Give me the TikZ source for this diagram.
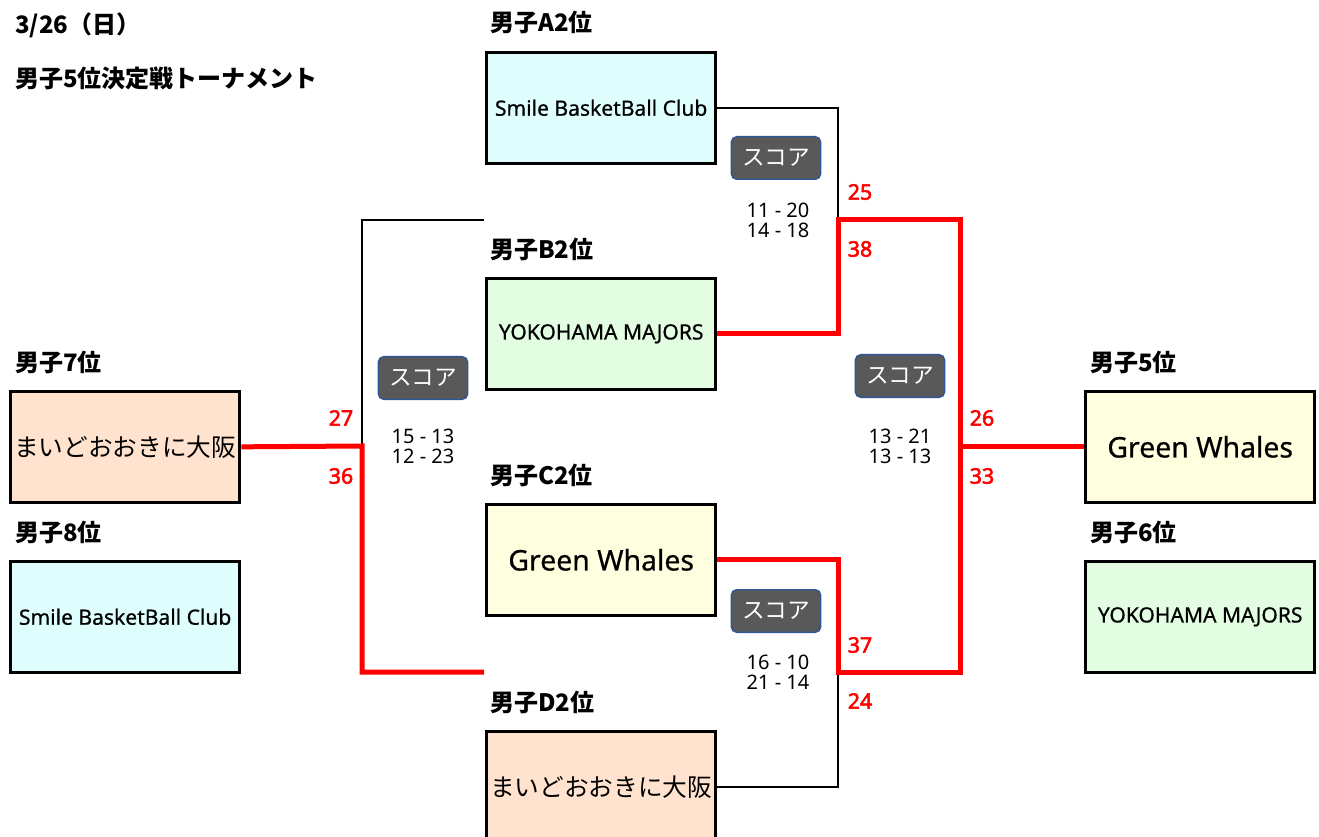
\documentclass[tikz,border=0pt]{standalone}
\usepackage{fontspec}
\setmainfont{Noto Sans CJK JP}
\newfontfamily\latinfont{Noto Sans}[AutoFakeBold=2.5]
\newfontfamily\teamfont{Noto Sans}[FakeBold=0.6]
\usepackage{xcolor}
\definecolor{BoxCyan}{HTML}{DFFFFF}
\definecolor{BoxGreen}{HTML}{E3FDE3}
\definecolor{BoxYellow}{HTML}{FFFFE0}
\definecolor{BoxPeach}{HTML}{FFE3CE}
\definecolor{BtnGray}{HTML}{595959}
\definecolor{BtnBlue}{HTML}{2F5597}
\definecolor{WinRed}{HTML}{FF0000}
\usepackage{tikz}
\usetikzlibrary{positioning}

\begin{document}
\begin{tikzpicture}[x=0.75pt,y=-0.75pt]
\tikzset{
  teambox/.style={draw=black,line width=2.25pt,minimum width=172pt,minimum height=83pt,
    anchor=north west,inner sep=0pt,align=center},
  smallname/.style={font=\teamfont\fontsize{15.8}{17}\selectfont},
  bigname/.style={font=\teamfont\fontsize{21.3}{23}\selectfont},
  jpname/.style={font=\fontsize{18.5}{20}\selectfont},
  head/.style={anchor=west,inner sep=0pt,font=\fontsize{18}{20}\selectfont\bfseries},
  scorebtn/.style={rounded corners=4pt,draw=BtnBlue,fill=BtnGray,text=white,line width=1pt,
    minimum width=67pt,minimum height=32pt,inner sep=0pt,font=\fontsize{17}{18}\selectfont},
  result/.style={align=center,inner sep=0pt,font=\latinfont\fontsize{15}{15}\selectfont},
  pts/.style={text=WinRed,inner sep=0pt,font=\latinfont\fontsize{16}{17}\selectfont\bfseries},
  won/.style={WinRed,line width=3.75pt},
  lost/.style={black,line width=1.5pt}
}
\useasboundingbox (0,0) rectangle (1319,837);

% title
\node[head] (date) at (15,25) {3/26（日）};
\node[head] (title) at (15,78) {男子5位決定戦トーナメント};

% middle column
\node[head] (hA) at (490,22) {男子A2位};
\node[head] (hB) at (490,249) {男子B2位};
\node[head] (hC) at (490,475) {男子C2位};
\node[head] (hD) at (490,702) {男子D2位};
\node[teambox,fill=BoxCyan,smallname] (A) at (485,51) {Smile BasketBall Club};
\node[teambox,fill=BoxGreen,smallname] (B) at (485,277) {YOKOHAMA MAJORS};
\node[teambox,fill=BoxYellow,bigname] (C) at (485,503) {Green Whales};
\node[teambox,fill=BoxPeach,jpname] (D) at (485,730) {まいどおおきに大阪};

% left column
\node[head] (h7) at (15,362) {男子7位};
\node[head] (h8) at (15,532) {男子8位};
\node[teambox,fill=BoxPeach,jpname] (L7) at (9,390) {まいどおおきに大阪};
\node[teambox,fill=BoxCyan,smallname] (L8) at (9,560) {Smile BasketBall Club};

% right column
\node[head] (h5) at (1090,362) {男子5位};
\node[head] (h6) at (1090,532) {男子6位};
\node[teambox,fill=BoxYellow,bigname] (W5) at (1084,390) {Green Whales};
\node[teambox,fill=BoxGreen,smallname] (W6) at (1084,560) {YOKOHAMA MAJORS};

% bracket points
\coordinate (fAB) at (838,220);
\coordinate (fCD) at (838,672);
\coordinate (rTop) at (960,220);
\coordinate (rBot) at (960,672);
\coordinate (lTop) at (484,220);
\coordinate (lBot) at (484,672);
\coordinate (lMid) at (362,446);

\draw[lost] (A.east) -| (fAB);
\draw[lost] (D.east) -| (fCD);
\draw[won] (B.east) -| (fAB) -- (rTop) -- (rBot) -- (fCD) |- (C.east);
\draw[won] (W5.west) -- (W5.west -| rTop);
\draw[lost] (lTop) -| (lMid);
\draw[won] (L7.east) -- (lMid) |- (lBot);

% scores
\node[scorebtn] (s1) at (776,158) {スコア};
\node[scorebtn] (s2) at (423,378) {スコア};
\node[scorebtn] (s3) at (900,376) {スコア};
\node[scorebtn] (s4) at (776,611) {スコア};
\node[result] (r1) at (778,220) {11 - 20\\14 - 18};
\node[result] (r2) at (423,446) {15 - 13\\12 - 23};
\node[result] (r3) at (900,446) {13 - 21\\13 - 13};
\node[result] (r4) at (778,672) {16 - 10\\21 - 14};

\node[pts] (p25) at (860,192) {25};
\node[pts] (p38) at (860,249) {38};
\node[pts] (p27) at (341,418) {27};
\node[pts] (p36) at (341,476) {36};
\node[pts] (p26) at (982,418) {26};
\node[pts] (p33) at (982,476) {33};
\node[pts] (p37) at (860,645) {37};
\node[pts] (p24) at (860,701) {24};
\end{tikzpicture}
\end{document}
